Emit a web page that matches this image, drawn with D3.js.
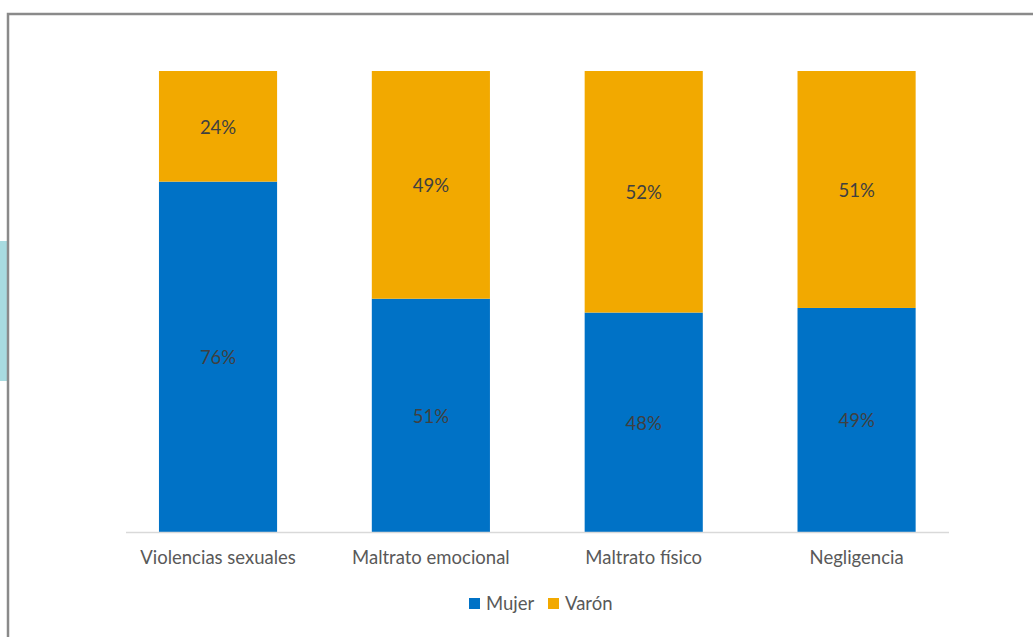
<!DOCTYPE html>
<html><head><meta charset="utf-8">
<script src="https://cdn.jsdelivr.net/npm/d3@7"></script>
<style>body{margin:0;background:#fff;}svg{display:block;}</style>
</head><body>
<svg id="c" width="1033" height="637"></svg>
<script>
const categories = ["Violencias sexuales", "Maltrato emocional", "Maltrato físico", "Negligencia"];
const mujer = [76.0, 50.6, 47.6, 48.6];
const varon = [24.0, 49.4, 52.4, 51.4];
const seriesNames = ["Mujer", "Varón"];
const colors = ["#0072c6", "#f2a900"];

const svg = d3.select("#c");
const font = "Lato, 'Open Sans', sans-serif";

// side decoration + frame
svg.append("rect").attr("x", 0).attr("y", 241).attr("width", 7).attr("height", 140).attr("fill", "#a8dbe0");
svg.append("rect").attr("x", 8).attr("y", 14).attr("width", 1040).attr("height", 640)
  .attr("fill", "none").attr("stroke", "#8a8a8a").attr("stroke-width", 2.5);

const x = d3.scaleBand().domain(categories).range([111.6, 963]).paddingInner(0.445).paddingOuter(0.2225);
const y = d3.scaleLinear().domain([0, 100]).range([532, 71]);

const rows = categories.map((c, i) => ({cat: c, Mujer: mujer[i], "Varón": varon[i]}));
const stack = d3.stack().keys(seriesNames)(rows);

const g = svg.append("g");
stack.forEach((s, si) => {
  g.selectAll(null).data(s).enter().append("rect")
    .attr("x", d => x(d.data.cat))
    .attr("width", x.bandwidth())
    .attr("y", d => y(d[1]))
    .attr("height", d => y(d[0]) - y(d[1]))
    .attr("fill", colors[si]);
  g.selectAll(null).data(s).enter().append("text")
    .attr("x", d => x(d.data.cat) + x.bandwidth() / 2)
    .attr("y", d => (y(d[0]) + y(d[1])) / 2 + 1)
    .attr("dy", "0.35em")
    .attr("text-anchor", "middle")
    .attr("font-family", font).attr("font-size", 18.5).attr("fill", "#404040")
    .text(d => Math.round(d[1] - d[0]) + "%");
});

// baseline
svg.append("line").attr("x1", 126).attr("x2", 949).attr("y1", 532.5).attr("y2", 532.5)
  .attr("stroke", "#d9d9d9").attr("stroke-width", 1.5);

// x axis labels
const ax = svg.append("g").attr("transform", "translate(0,532)")
  .call(d3.axisBottom(x).tickSize(0).tickPadding(19));
ax.select(".domain").remove();
ax.selectAll("text").attr("font-family", font).attr("font-size", 18.5).attr("fill", "#595959");

// legend
const legend = svg.append("g");
const lx = [469, 548];
seriesNames.forEach((n, i) => {
  legend.append("rect").attr("x", lx[i]).attr("y", 598).attr("width", 11).attr("height", 11).attr("fill", colors[i]);
  legend.append("text").attr("x", lx[i] + 17).attr("y", 603.5).attr("dy", "0.35em")
    .attr("font-family", font).attr("font-size", 18.5).attr("fill", "#595959").text(n);
});
</script>
</body></html>
